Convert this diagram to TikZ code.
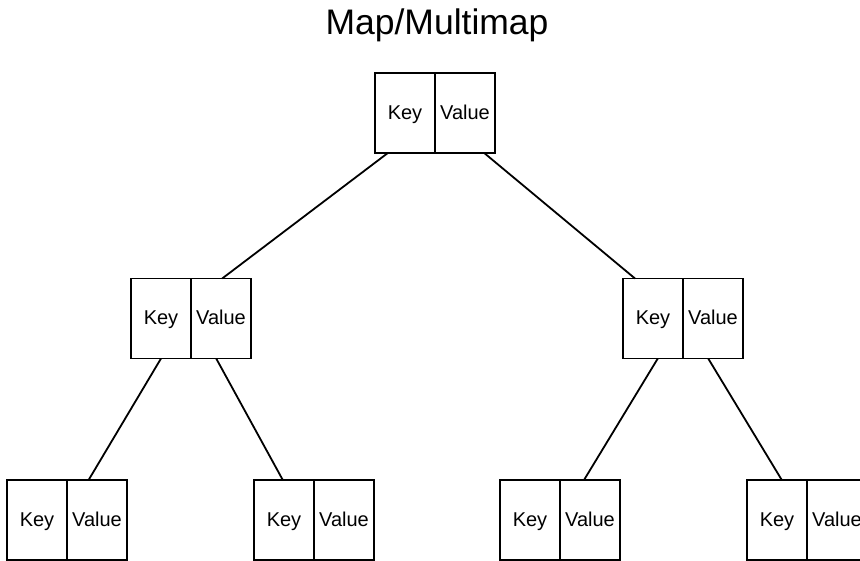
\documentclass[tikz,border=0pt]{standalone}
\usepackage{fontspec}
\setmainfont{Liberation Sans}
\usetikzlibrary{positioning,calc}

\tikzset{
  cell/.style={draw, line width=1.8pt, minimum width=60pt, minimum height=80pt,
    inner sep=0pt, outer sep=0pt, text height=16pt, text depth=3.4pt,
    font=\fontsize{20}{24}\selectfont},
  link/.style={line width=1.8pt}
}
% one map entry: key cell + value cell
\newcommand{\kvbox}[3]{%
  \node[cell] (#1-k) at (#2,#3) {Key};
  \node[cell, right=0pt of #1-k] (#1-v) {Value};
}

\begin{document}
\begin{tikzpicture}[x=1pt, y=-1pt]
\useasboundingbox (0,0) rectangle (860,561);

% title
\node[anchor=base, font=\fontsize{35.5}{40}\selectfont] (title) at (437,35) {Map/Multimap};

% root
\kvbox{top}{405}{113}

% second level
\kvbox{ml}{161}{318.5}
\kvbox{mr}{653}{318.5}

% leaves
\kvbox{ba}{37}{520}
\kvbox{bb}{284}{520}
\kvbox{bc}{530}{520}
\kvbox{bd}{777}{520}

% links parent -> child
\foreach \p/\pa/\c/\ca in {top/0.107/ml/0.76, top/0.91/mr/0.1,
    ml/0.25/ba/0.68, ml/0.71/bb/0.24, mr/0.29/bc/0.7, mr/0.71/bd/0.29}
  \draw[link] ($(\p-k.south west)!\pa!(\p-v.south east)$)
    -- ($(\c-k.north west)!\ca!(\c-v.north east)$);

\end{tikzpicture}
\end{document}
